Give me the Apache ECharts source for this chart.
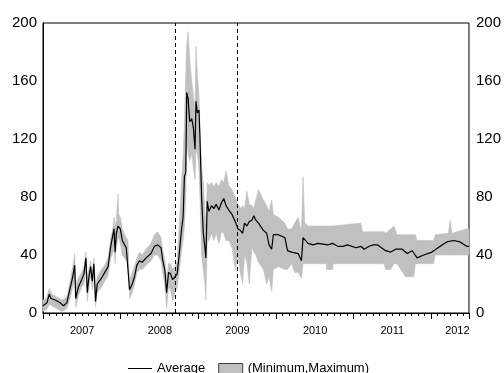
<!DOCTYPE html>
<html>
<head>
<meta charset="utf-8">
<script src="https://cdn.jsdelivr.net/npm/echarts@6.0.0/dist/echarts.min.js"></script>
<style>
  html, body { margin: 0; padding: 0; background: #fff; }
  #chart { width: 504px; height: 373px; }
</style>
</head>
<body>
<div id="chart"></div>
<script>
// x values are months counted from January 2007
const yearLabels = ['2007', '2008', '2009', '2010', '2011', '2012'];
const eventMonths = [20.5, 30];

const avgMonths = [
  0, 0.61, 0.97, 1.23, 1.89, 2.66, 3.17, 3.68, 3.93, 4.19,
  4.60, 4.90, 5.06, 5.47, 5.98, 6.33, 6.64, 6.85, 7.10, 7.36,
  7.61, 7.87, 8.12, 8.38, 9.04, 9.55, 10.06, 10.47, 10.73, 10.98,
  11.14, 11.34, 11.60, 11.70, 11.95, 12.26, 12.62, 12.87, 13.13, 13.38,
  13.79, 14.15, 14.51, 14.92, 15.33, 15.94, 16.70, 17.22, 17.73, 18.24,
  18.49, 18.85, 19.11, 19.41, 19.72, 20.03, 20.43, 20.74, 21.05, 21.35,
  21.66, 21.86, 22.07, 22.22, 22.43, 22.68, 22.99, 23.24, 23.50, 23.65,
  23.86, 24.11, 24.27, 24.52, 24.78, 25.03, 25.18, 25.39, 25.64, 26.05,
  26.41, 26.77, 27.18, 27.59, 27.94, 28.30, 28.71, 29.22, 29.73, 30.14,
  30.50, 30.86, 31.16, 31.52, 31.88, 32.29, 32.59, 32.90, 33.31, 34.07,
  34.58, 34.94, 35.35, 35.61, 36.37, 37.39, 37.80, 38.42, 39.44, 39.95,
  40.20, 40.97, 41.74, 42.50, 44.04, 44.80, 45.57, 46.34, 47.10, 48.38,
  49.14, 49.65, 50.42, 51.06, 51.70, 52.31, 52.98, 53.74, 54.51, 55.53,
  56.30, 57.06, 57.83, 58.85, 60.13, 61.40, 62.43, 63.45, 64.47, 65.49,
  65.85
];
const avgValues = [
  5, 7, 13, 10, 9, 7, 5, 7, 8, 17,
  25, 33, 10, 18, 23, 27, 38, 14, 25, 32,
  22, 34, 8, 20, 24, 28, 32, 46, 47, 58,
  42, 55, 60, 60, 58, 50, 47, 45, 46, 16,
  20, 25, 33, 36, 35, 38, 41, 46, 47, 45,
  37, 29, 14, 28, 27, 23, 25, 27, 40, 55,
  66, 94, 97, 152, 148, 132, 134, 128, 113, 146,
  138, 140, 120, 80, 55, 45, 38, 77, 70, 74,
  72, 75, 71, 76, 79, 74, 71, 68, 63, 58,
  57, 55, 62, 60, 63, 64, 67, 64, 62, 57,
  55, 47, 44, 54, 54, 52, 43, 42, 41, 36,
  52, 48, 47, 48, 47, 48, 46, 46, 47, 45,
  46, 44, 46, 47, 47, 45, 43, 42, 44, 44,
  41, 43, 38, 40, 42, 46, 49, 50, 49, 46,
  46
];

const bandMonths = [
  0, 0.51, 0.97, 1.38, 2.15, 2.91, 3.68, 4.19, 4.60, 4.90,
  5.06, 5.47, 5.98, 6.33, 6.64, 6.85, 7.10, 7.36, 7.61, 7.87,
  8.12, 8.38, 9.04, 9.55, 10.06, 10.47, 10.73, 10.98, 11.14, 11.34,
  11.60, 11.70, 11.95, 12.26, 12.62, 12.87, 13.13, 13.38, 13.79, 14.15,
  14.51, 14.92, 15.33, 15.94, 16.70, 17.22, 17.73, 18.24, 18.49, 18.85,
  19.11, 19.41, 19.72, 20.03, 20.43, 20.74, 21.05, 21.35, 21.66, 21.86,
  22.07, 22.22, 22.43, 22.68, 22.99, 23.24, 23.50, 23.65, 23.86, 24.11,
  24.27, 24.52, 24.78, 25.03, 25.18, 25.39, 25.64, 26.05, 26.41, 26.77,
  27.18, 27.59, 27.94, 28.30, 28.71, 29.22, 29.73, 30.14, 30.50, 30.86,
  31.16, 31.52, 31.88, 32.29, 32.59, 32.90, 33.31, 34.07, 34.58, 34.94,
  35.35, 35.61, 36.37, 37.39, 37.80, 38.42, 38.93, 39.44, 39.95, 40.20,
  40.46, 40.97, 43.78, 43.83, 44.80, 44.85, 49.14, 49.40, 52.72, 52.98,
  53.74, 54.25, 54.76, 56.04, 57.32, 57.57, 57.83, 60.38, 60.64, 62.68,
  62.94, 63.19, 65.49, 65.85
];
const bandLow = [
  1, 2, 6, 5, 3, 1, 3, 10, 18, 24,
  4, 12, 18, 20, 28, 8, 18, 26, 16, 26,
  4, 14, 18, 22, 26, 38, 40, 46, 34, 46,
  52, 52, 48, 40, 38, 36, 38, 10, 14, 20,
  28, 30, 30, 33, 36, 40, 40, 36, 28, 18,
  3, 18, 16, 8, 14, 18, 28, 40, 50, 60,
  80, 120, 110, 105, 110, 100, 92, 112, 110, 100,
  80, 40, 30, 20, 9, 50, 50, 55, 50, 55,
  48, 56, 55, 50, 50, 45, 30, 40, 28, 20,
  40, 35, 20, 45, 42, 40, 35, 30, 20, 25,
  15, 30, 32, 30, 30, 34, 28, 28, 24, 34,
  34, 34, 34, 30, 30, 34, 34, 34, 34, 30,
  30, 34, 34, 25, 25, 34, 34, 34, 40, 40,
  40, 40, 40, 40
];
const bandHigh = [
  9, 10, 17, 13, 11, 9, 11, 22, 32, 41,
  20, 24, 28, 32, 42, 22, 30, 36, 28, 38,
  16, 25, 30, 33, 38, 52, 56, 66, 60, 64,
  82, 68, 66, 58, 54, 52, 50, 22, 28, 32,
  38, 42, 40, 44, 48, 54, 56, 52, 44, 36,
  24, 34, 34, 30, 32, 36, 60, 85, 108, 130,
  165, 185, 194, 175, 160, 150, 140, 184, 165, 150,
  128, 100, 90, 70, 60, 90, 88, 90, 87, 90,
  87, 92, 90, 98, 88, 85, 80, 75, 72, 74,
  72, 84, 75, 74, 72, 78, 85, 78, 74, 70,
  78, 68, 66, 62, 58, 58, 62, 66, 56, 94,
  62, 60, 60, 60, 60, 60, 62, 56, 56, 55,
  58, 60, 54, 54, 54, 54, 50, 50, 54, 55,
  64, 55, 58, 58
];

const chart = echarts.init(document.getElementById('chart'), null, { renderer: 'canvas' });
const font = 'Liberation Sans, Arial, sans-serif';

const option = {
  animation: false,
  backgroundColor: '#fff',
  grid: {
    left: 43, top: 23, width: 429, height: 290,
    show: true, borderColor: '#000', borderWidth: 1, backgroundColor: 'transparent'
  },
  legend: {
    left: 128, top: 362, padding: 0,
    itemWidth: 24, itemHeight: 10, itemGap: 13,
    textStyle: { fontFamily: font, fontSize: 13, color: '#000' },
    selectedMode: false,
    data: [
      // thin bar icon, kept at its aspect so it reads as a plain line
      { name: 'Average', icon: 'path://M0,0H24V1H0Z', itemStyle: { color: '#000', borderWidth: 0 } },
      { name: '(Minimum,Maximum)', icon: 'rect', itemStyle: { color: '#c0c0c0', borderColor: '#404040', borderWidth: 1 } }
    ]
  },
  xAxis: [
    {
      type: 'value', position: 'bottom', min: 0, max: 65.85, interval: 12,
      axisLine: { show: true, lineStyle: { color: '#000', width: 1 } },
      axisTick: { show: true, length: 6, lineStyle: { color: '#000' } },
      splitLine: { show: false },
      axisLabel: {
        margin: 12, align: 'left', color: '#000',
        fontFamily: font, fontSize: 11,
        formatter: function (v) {
          const k = Math.round(v / 12);
          if (Math.abs(v - k * 12) > 1e-6 || !yearLabels[k]) return '';
          return (k === yearLabels.length - 1 ? '{e|' : '{y|') + yearLabels[k] + '}';
        },
        rich: {
          y: { padding: [0, 0, 0, 27], fontFamily: font, fontSize: 11, color: '#000' },
          e: { padding: [0, 0, 0, 14], fontFamily: font, fontSize: 11, color: '#000' }
        }
      }
    },
    {
      type: 'value', position: 'bottom', min: 0, max: 65.85, interval: 1,
      axisLine: { show: false },
      axisTick: { show: true, length: 3, lineStyle: { color: '#000' } },
      axisLabel: { show: false },
      splitLine: { show: false }
    }
  ],
  yAxis: [
    {
      type: 'value', position: 'left', min: 0, max: 200, interval: 40,
      axisLine: { show: true, lineStyle: { color: '#000' } },
      axisTick: { show: false },
      splitLine: { show: false },
      axisLabel: { margin: 6, color: '#000', fontFamily: font, fontSize: 15 }
    },
    {
      type: 'value', position: 'right', min: 0, max: 200, interval: 40,
      axisLine: { show: true, lineStyle: { color: '#000' } },
      axisTick: { show: false },
      splitLine: { show: false },
      axisLabel: { margin: 7, color: '#000', fontFamily: font, fontSize: 15 }
    }
  ],
  series: [
    {
      name: '(Minimum,Maximum)',
      type: 'custom',
      xAxisIndex: 0, yAxisIndex: 0,
      itemStyle: { color: '#c0c0c0' },
      data: [[0, 0]],
      encode: { x: 0, y: 1 },
      z: 1,
      renderItem: function (params, api) {
        const upper = bandMonths.map((m, i) => api.coord([m, bandHigh[i]]));
        const lower = bandMonths.map((m, i) => api.coord([m, bandLow[i]])).reverse();
        return {
          type: 'polygon',
          shape: { points: upper.concat(lower) },
          style: { fill: '#c0c0c0', stroke: '#c0c0c0', lineWidth: 0.6 }
        };
      }
    },
    {
      name: 'Average',
      type: 'line',
      xAxisIndex: 0, yAxisIndex: 0,
      data: avgMonths.map((m, i) => [m, avgValues[i]]),
      symbol: 'none',
      lineStyle: { color: '#000', width: 1.2 },
      itemStyle: { color: '#000' },
      z: 3,
      markLine: {
        silent: true,
        symbol: 'none',
        label: { show: false },
        lineStyle: { color: '#000', width: 1, type: [4, 3] },
        data: eventMonths.map(m => ({ xAxis: m }))
      }
    }
  ]
};

chart.setOption(option);
</script>
</body>
</html>
